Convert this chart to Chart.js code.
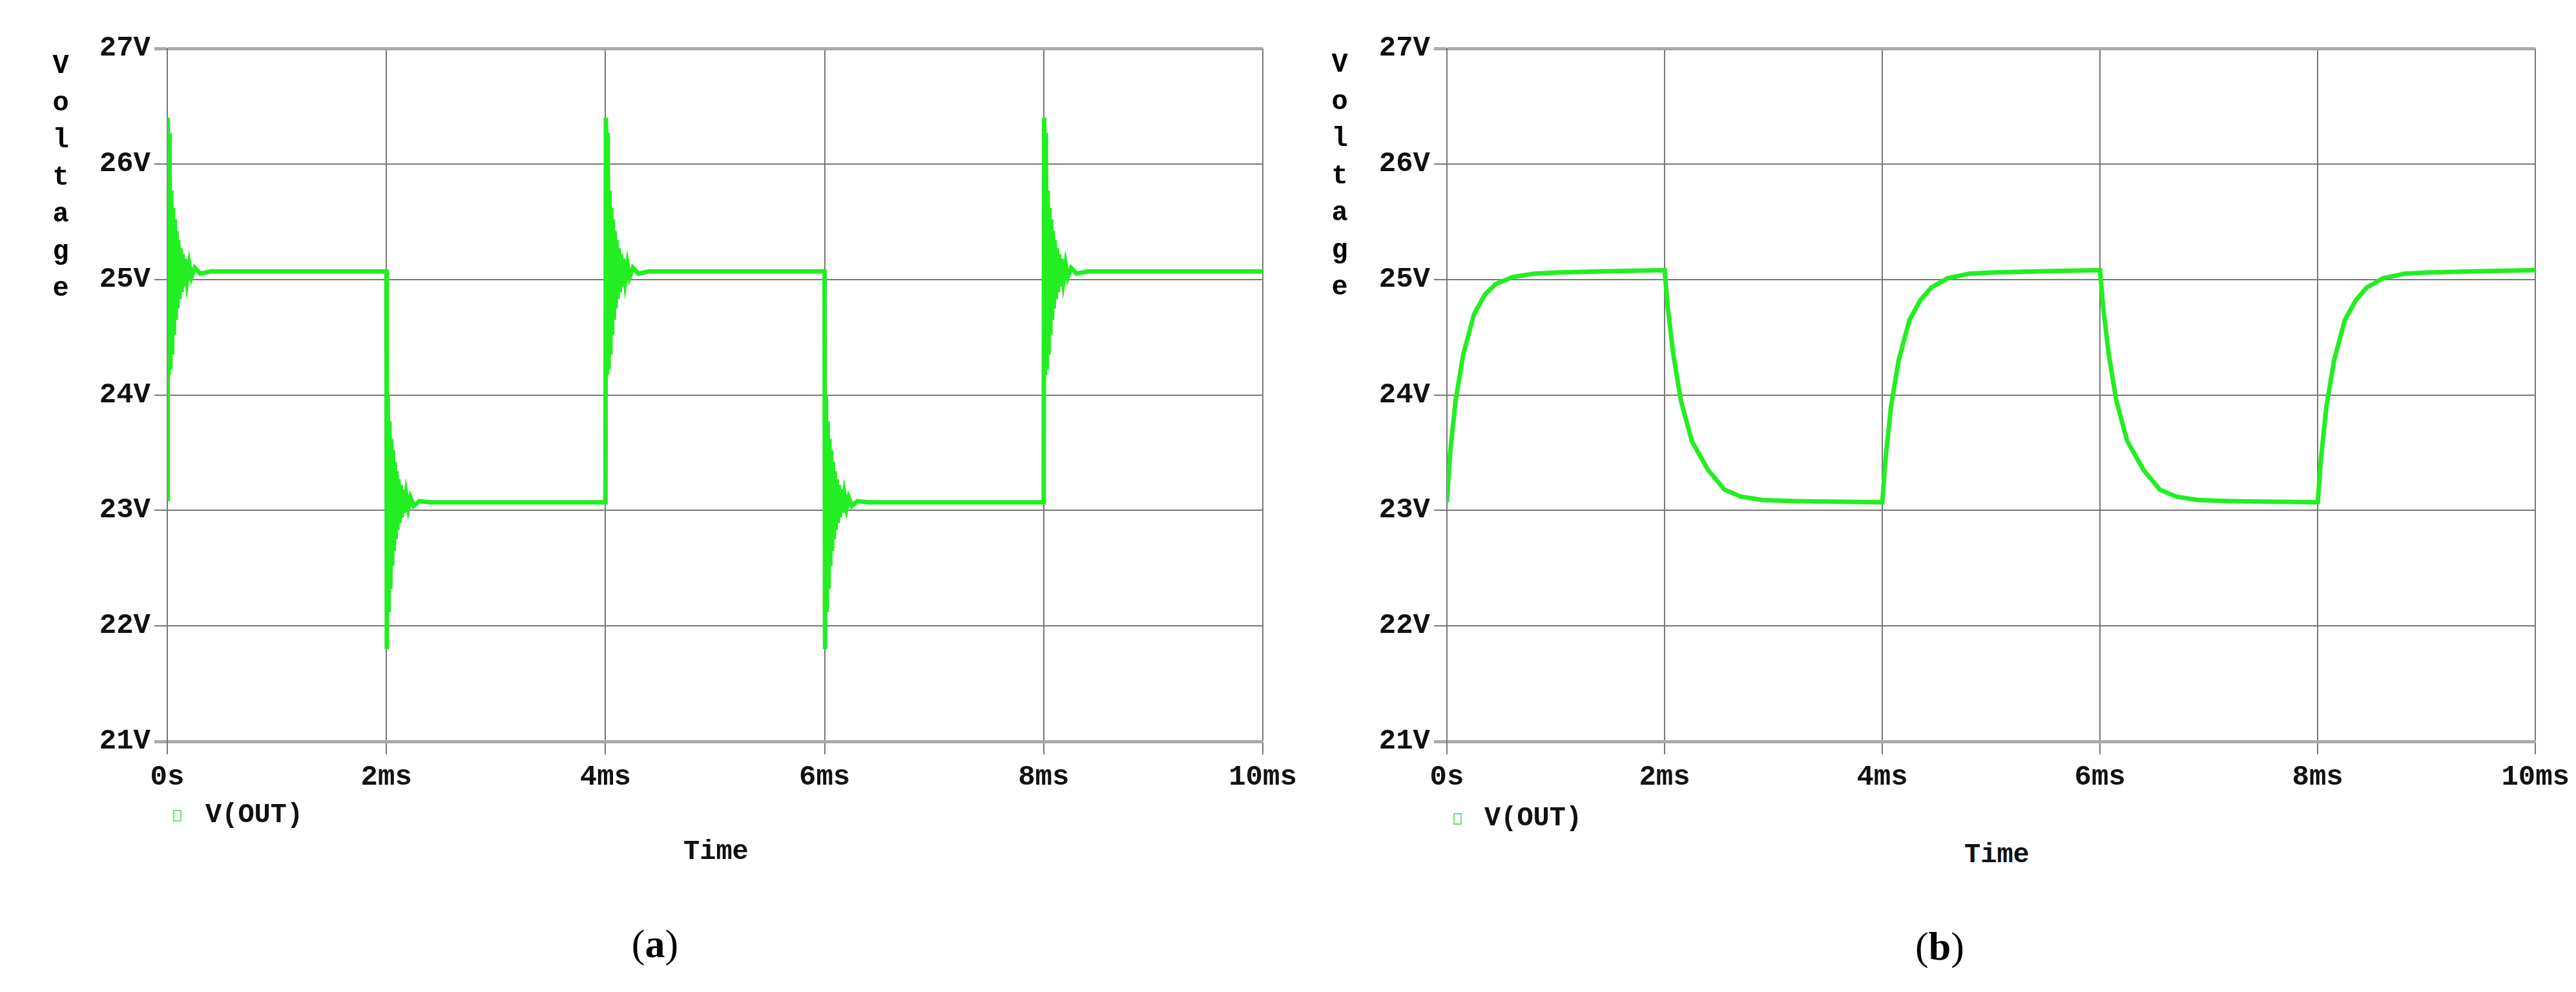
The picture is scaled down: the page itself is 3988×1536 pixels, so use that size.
<!DOCTYPE html>
<html><head><meta charset="utf-8">
<script src="https://cdn.jsdelivr.net/npm/chart.js@4"></script>
<style>
body{margin:0;width:3988px;height:1536px;background:#fff;position:relative;overflow:hidden;font-family:"Liberation Mono",monospace}
canvas{position:absolute}
.t{position:absolute;white-space:nowrap;color:#111}
.vt{position:absolute;font:bold 42px "Liberation Mono";line-height:57.5px;text-align:center;width:40px}
.lg{position:absolute;width:9px;height:14px;border:2px solid #7d7;}
.cap{position:absolute;font:62px "Liberation Serif",serif;transform:translateX(-50%)}
</style></head><body>
<div id="c1w" style="position:absolute;left:0;top:0;width:2040px;height:1300px"><canvas id="c1"></canvas></div>
<div id="c2w" style="position:absolute;left:1980px;top:0;width:2008px;height:1300px"><canvas id="c2"></canvas></div>
<div class="vt" style="left:74px;top:74px">V<br>o<br>l<br>t<br>a<br>g<br>e</div>
<div class="vt" style="left:2054px;top:72px">V<br>o<br>l<br>t<br>a<br>g<br>e</div>
<div class="lg" style="left:268px;top:1254px"></div>
<div class="t" style="left:318px;top:1238px;font:bold 42px 'Liberation Mono'">V(OUT)</div>
<div class="lg" style="left:2250px;top:1259px"></div>
<div class="t" style="left:2298px;top:1243px;font:bold 42px 'Liberation Mono'">V(OUT)</div>
<div class="t" style="left:1058px;top:1295px;font:bold 42px 'Liberation Mono'">Time</div>
<div class="t" style="left:3041px;top:1300px;font:bold 42px 'Liberation Mono'">Time</div>
<div class="cap" style="left:1014px;top:1426px">(<b>a</b>)</div>
<div class="cap" style="left:3003px;top:1430px">(<b>b</b>)</div>
<script>
// ---- data ----
const xTicks = [0, 2, 4, 6, 8, 10];           // ms
const xTickLabels = ['0s','2ms','4ms','6ms','8ms','10ms'];
const yTicks = [21, 22, 23, 24, 25, 26, 27];
const highLevel = 25.07, lowLevel = 23.07;
const edgeTimes = [0, 2, 4, 6, 8];
const edgeTypes = ['rise','fall','rise','fall','rise'];
// panel (a) ringing transients: time offsets (ms) and deviation from settled level (V)
const riseT = [0,0.004,0.012,0.02,0.028,0.036,0.044,0.052,0.06,0.068,0.076,0.084,0.092,0.1,0.11,0.12,0.13,0.14,0.15,0.16,0.18,0.2,0.22,0.25,0.3,0.4];
const riseV = [-1.97,1.33,-0.9,1.2,-0.85,0.7,-0.72,0.55,-0.55,0.45,-0.42,0.35,-0.32,0.27,-0.24,0.2,-0.18,0.15,-0.13,0.11,-0.08,0.06,-0.05,0.03,-0.02,0];
const fallT = [0.004,0.012,0.02,0.028,0.036,0.044,0.052,0.06,0.068,0.076,0.084,0.092,0.1,0.11,0.12,0.13,0.14,0.15,0.16,0.18,0.2,0.22,0.25,0.3,0.4];
const fallV = [-1.27,0.93,-0.95,0.7,-0.75,0.55,-0.55,0.45,-0.42,0.35,-0.32,0.27,-0.24,0.2,-0.18,0.15,-0.13,0.11,-0.09,0.07,-0.05,0.04,-0.03,0.01,0];
// panel (b) smooth response
const bTime = [0,0.03,0.08,0.15,0.25,0.35,0.45,0.6,0.8,1.0,1.4,2.0,
  2.03,2.08,2.15,2.25,2.4,2.55,2.7,2.9,3.2,4.0,
  4.03,4.08,4.15,4.25,4.35,4.45,4.6,4.8,5.0,5.4,6.0,
  6.03,6.08,6.15,6.25,6.4,6.55,6.7,6.9,7.2,8.0,
  8.03,8.08,8.15,8.25,8.35,8.45,8.6,8.8,9.0,9.4,10.0];
const bVolt = [23.07,23.5,23.95,24.35,24.7,24.87,24.96,25.02,25.05,25.06,25.07,25.08,
  24.75,24.35,23.95,23.6,23.35,23.18,23.12,23.09,23.08,23.07,
  23.45,23.9,24.3,24.65,24.82,24.93,25.01,25.05,25.06,25.07,25.08,
  24.75,24.35,23.95,23.6,23.35,23.18,23.12,23.09,23.08,23.07,
  23.45,23.9,24.3,24.65,24.82,24.93,25.01,25.05,25.06,25.07,25.08];

// build (a) points
const aPts = [];
edgeTimes.forEach((e, i) => {
  if (edgeTypes[i] === 'rise') {
    if (e > 0) aPts.push({x: e, y: lowLevel});
    riseT.forEach((t, j) => aPts.push({x: e + t, y: highLevel + riseV[j]}));
  } else {
    aPts.push({x: e, y: highLevel});
    fallT.forEach((t, j) => aPts.push({x: e + t, y: lowLevel + fallV[j]}));
  }
});
aPts.push({x: 10, y: highLevel});
const bPts = bTime.map((t, i) => ({x: t, y: bVolt[i]}));

function makeChart(id, pts, lw, leftW, rightPad) {
  const tickFont = {family: 'Liberation Mono', size: 44, weight: 'bold'};
  return new Chart(document.getElementById(id), {
    type: 'line',
    data: {datasets: [{data: pts, borderColor: '#22ee22', borderWidth: lw, pointRadius: 0, tension: 0, fill: false}]},
    options: {
      responsive: true, maintainAspectRatio: false, animation: false,
      layout: {padding: {top: 75, right: rightPad, left: 0, bottom: 0}},
      plugins: {legend: {display: false}, tooltip: {enabled: false}},
      scales: {
        x: {type: 'linear', min: 0, max: 10,
          afterBuildTicks: a => { a.ticks = xTicks.map(v => ({value: v})); },
          ticks: {font: tickFont, color: '#111', padding: 10, maxRotation: 0, callback: (v) => xTickLabels[xTicks.indexOf(v)]},
          grid: {color: '#777', lineWidth: 2, tickLength: 20},
          border: {color: '#aaa', width: 4},
          afterFit: s => { s.height = 152; }},
        y: {min: 21, max: 27,
          afterBuildTicks: a => { a.ticks = yTicks.map(v => ({value: v})); },
          ticks: {font: tickFont, color: '#111', padding: 6, callback: v => v + 'V'},
          grid: {color: c => (c.tick && (c.tick.value === 27 || c.tick.value === 21)) ? '#aaa' : '#777', lineWidth: c => (c.tick && (c.tick.value === 27 || c.tick.value === 21)) ? 5 : 2, tickLength: 20},
          border: {color: '#777', width: 2},
          afterFit: s => { s.width = leftW; }}
      }
    }
  });
}
makeChart('c1', aPts, 7, 259, 85);
makeChart('c2', bPts, 7, 260, 43);
</script></body></html>
